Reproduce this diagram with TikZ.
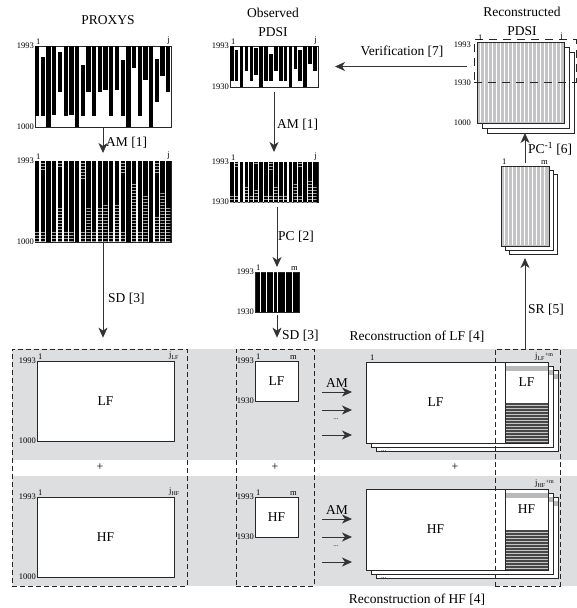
\documentclass[tikz,border=0pt]{standalone}
\usepackage{fontspec}
\setmainfont{Liberation Serif}
\usetikzlibrary{arrows.meta,positioning,calc,backgrounds,patterns}
\definecolor{band}{RGB}{221,222,224}
\definecolor{recg}{RGB}{196,196,198}
% top/bottom of each proxy column (fraction of matrix height)
\newcommand{\proxbars}{0/0.865,0.13/0.865,0/1,0/0.857,0.08/0.57,0/0.865,0/0.857,0/1,0.233/0.865,0/0.57,0/0.865,0/0.57,0/0.547,0/0.865,0/0.54,0.17/0.865,0/1,0/0.273,0/0.865,0/0.424,0/1,0.163/0.694,0/0.376,0/0.57}
\newcommand{\obsbars}{0/0.85,0.1/0.85,0/1,0/0.6,0/0.85,0.05/0.7,0/1,0/0.85,0.2/0.85,0/0.6,0/0.85,0/0.85,0/1,0/0.55,0.1/0.85,0/1,0/0.45,0/0.6}

\begin{document}
\begin{tikzpicture}[x=1pt, y=-1pt,
    font=\fontsize{13.5}{16}\selectfont,
  % data matrices and result sheets
    mat/.style={draw=black!85, line width=0.7pt, fill=white, inner sep=0pt, outer sep=0pt},
    sheet/.style={draw=black!85, line width=0.7pt, fill=white},
  % dashed boxes: groups over the grey bands, calibration window
    grp/.style={draw=black!85, line width=0.7pt, dash pattern=on 5pt off 3pt, inner sep=0pt},
    win/.style={draw=black!85, line width=0.7pt, dash pattern=on 8pt off 6pt, inner sep=0pt},
    tick/.style={font=\fontsize{8.5}{9}\selectfont, inner sep=1pt},
    txt/.style={inner sep=1pt},
    infill/.style={pattern=horizontal lines, pattern color=gray!75},
    arr/.style={-{Stealth[length=10pt,width=9pt,inset=3pt]}, line width=0.8pt, draw=black!80}
  ]
\useasboundingbox (0,0) rectangle (577,608);

% --- proxys (left) ---
\node[txt] (proxt) at (108,20) {PROXYS};
\node[mat, minimum width=136pt, minimum height=81pt] (prox) at (103,86.5) {};
\node[mat, minimum width=136pt, minimum height=81pt] (proxam) at (103,201.5) {};

\foreach \t/\b [count=\i from 0] in \proxbars
  \fill ($(prox.north west)+(\i*5.7,\t*81)$) rectangle ++(4.3,{(\b-\t)*81});

\fill (proxam.north west) rectangle (proxam.south east);
\foreach \t/\b [count=\i from 0] in \proxbars {
  \fill[infill] ($(proxam.north west)+(\i*5.7,0)$) rectangle ++(4.3,{\t*81});
  \fill[infill] ($(proxam.north west)+(\i*5.7,\b*81)$) rectangle ++(4.3,{(1-\b)*81});
}
\foreach \i in {0,...,22}
  \fill[white] ($(proxam.north west)+(\i*5.7+4.3,0.4)$) rectangle ++(1.4,80.2);

% --- observed PDSI (middle) ---
\node[txt, align=center, font=\fontsize{13.5}{19}\selectfont] (obst) at (273,22) {Observed\\PDSI};
\node[mat, minimum width=88pt, minimum height=41pt] (obs) at (274,66.5) {};
\node[mat, minimum width=88pt, minimum height=40pt] (obsam) at (274,182) {};
\node[mat, fill=black, minimum width=44pt, minimum height=40pt] (pc) at (277,292) {};

\foreach \t/\b [count=\i from 0] in \obsbars
  \fill ($(obs.north west)+(\i*4.89,\t*41)$) rectangle ++(3.6,{(\b-\t)*41});

\fill (obsam.north west) rectangle (obsam.south east);
\foreach \t/\b [count=\i from 0] in \obsbars {
  \fill[infill] ($(obsam.north west)+(\i*4.89,0)$) rectangle ++(3.6,{\t*40});
  \fill[infill] ($(obsam.north west)+(\i*4.89,\b*40)$) rectangle ++(3.6,{(1-\b)*40});
}
\foreach \i in {0,...,16}
  \fill[white] ($(obsam.north west)+(\i*4.89+3.6,0.4)$) rectangle ++(1.2,39.2);

\foreach \x in {5.3,11,18.3,22.7,30,37}
  \draw[white, line width=0.9pt] ($(pc.north west)+(\x,0.4)$) -- ++(0,39.2);

% --- reconstructed PDSI (right) ---
\node[txt, align=center, font=\fontsize{13.5}{19}\selectfont] (rect) at (522,21) {Reconstructed\\PDSI};
\node[mat, fill=recg, minimum width=87pt, minimum height=81pt] (rec) at (520.5,82.5) {};
\node[mat, fill=recg, minimum width=48pt, minimum height=80pt] (recpc) at (525,206) {};
\foreach \x in {3,7,...,83}
  \draw[white, line width=1pt] ($(rec.north west)+(\x,0.6)$) -- ++(0,79.8);
\foreach \x in {3,7,...,45}
  \draw[white, line width=1pt] ($(recpc.north west)+(\x,0.6)$) -- ++(0,78.8);
\node[win, minimum width=102pt, minimum height=43pt] (recwin) at (525,60.5) {};

% --- LF / HF split ---
\node[mat, minimum width=137pt, minimum height=80pt] (lfl) at (105.5,401) {LF};
\node[mat, minimum width=137pt, minimum height=80pt] (hfl) at (105.5,537) {HF};
\node[mat, minimum width=43pt, minimum height=40pt] (lfm) at (276.5,381) {LF};
\node[mat, minimum width=43pt, minimum height=40pt] (hfm) at (276.5,517) {HF};

% --- reconstructions: main part + appended m columns ---
\node[mat, minimum width=139pt, minimum height=81pt] (lfrec) at (435.5,402.5) {LF};
\node[mat, minimum width=43pt, minimum height=81pt, right=0pt of lfrec] (lfsub) {};
\node[mat, minimum width=139pt, minimum height=81pt] (hfrec) at (435.5,529.5) {HF};
\node[mat, minimum width=43pt, minimum height=81pt, right=0pt of hfrec] (hfsub) {};

\foreach \s/\l in {lfsub/LF, hfsub/HF} {
  \fill[gray!55] ($(\s.north west)+(0.4,4)$) rectangle ($(\s.north east)+(-0.4,9)$);
  \node (\s-t) at ($(\s.north)+(0,20)$) {\l};
  \fill[black!72] (\s.west) rectangle (\s.south east);
  \foreach \k in {1,...,13}
    \draw[gray!45, line width=0.9pt] ($(\s.west)+(0.4,\k*3)$) -- ++(42.2,0);
  \draw[black!85, line width=0.7pt] (\s.north west) rectangle (\s.south east);
}

% --- arrows into the reconstructions ---
\node[txt] (amlf) at (337,383) {AM};
\node[txt] (amhf) at (337,510) {AM};
\foreach \r in {lfrec, hfrec} {
  \foreach \dy [count=\k] in {30,48,73} {
    \coordinate (\r-in\k) at ([yshift=-\dy pt]\r.north west);
    \draw[arr, shorten <=8pt, shorten >=14pt] (\r-in\k -| lfm.east) ++(16,0) coordinate (\r-src\k) -- (\r-in\k);
  }
  \node[tick, font=\fontsize{7}{7}\selectfont] (\r-dots) at ($(\r-in2)!0.5!(\r-in3)+(-30,-3)$) {...};
  \node[tick, font=\fontsize{7}{7}\selectfont, anchor=base west] (\r-more) at ($(\r.south west)+(14,8)$) {...};
}

% --- dashed group boxes ---
\node[grp, minimum width=175pt, minimum height=237pt] (grpL) at (99.5,467.5) {};
\node[grp, minimum width=78pt, minimum height=237pt] (grpM) at (275,467.5) {};
\node[grp, minimum width=65pt, minimum height=237pt] (grpR) at (527.5,467.5) {};

% --- column / year ticks ---
\foreach \m/\l/\r in {prox/1/j, proxam/1/j, obs/1/j, obsam/1/j, pc/1/m, rec/1/j, recpc/1/m, lfm/1/m, hfm/1/m} {
  \node[tick, anchor=south west] (\m-c1) at (\m.north west) {\l};
  \node[tick, anchor=south east] (\m-c2) at (\m.north east) {\r};
}
\foreach \m/\a/\b in {prox/1993/1000, proxam/1993/1000, obs/1993/1930, obsam/1993/1930, pc/1993/1930, lfl/1993/1000, hfl/1993/1000, lfm/1993/1930, hfm/1993/1930} {
  \node[tick, anchor=east] (\m-y1) at (\m.north west) {\a};
  \node[tick, anchor=east] (\m-y2) at (\m.south west) {\b};
}
\node[tick, anchor=east, inner sep=2.5pt] (rec-y1) at ([yshift=-3pt]recwin.west |- rec.north) {1993};
\node[tick, anchor=east, inner sep=2.5pt] (rec-y2) at (recwin.south west) {1930};
\node[tick, anchor=east, inner sep=2.5pt] (rec-y3) at (recwin.west |- rec.south) {1000};
\node[tick, anchor=south west] (lfl-c1) at (lfl.north west) {1};
\node[tick, anchor=south west] (lfl-c2) at ([xshift=-6pt]lfl.north east) {j\textsubscript{LF}};
\node[tick, anchor=south west] (hfl-c1) at (hfl.north west) {1};
\node[tick, anchor=south west] (hfl-c2) at ([xshift=-6pt]hfl.north east) {j\textsubscript{HF}};
\node[tick, anchor=south west] (lfrec-c1) at ([xshift=3pt]lfrec.north west) {1};
\node[tick, anchor=south west] (lfsub-c2) at ([xshift=29pt]lfsub.north west) {j\textsubscript{LF}\textsuperscript{+m}};
\node[tick, anchor=south west] (hfsub-c2) at ([xshift=29pt]hfsub.north west) {j\textsubscript{HF}\textsuperscript{+m}};

% --- processing steps ---
\draw[arr, shorten >=8pt] (prox.south) -- (proxam.north);
\draw[arr, shorten >=11pt] (proxam.south) -- (proxam.south |- grpL.north);
\draw[arr, shorten <=5pt, shorten >=10pt] (obs.south) -- (obsam.north);
\draw[arr, shorten <=5pt, shorten >=5pt] (obsam.south -| pc.north) -- (pc.north);
\draw[arr, shorten <=3pt, shorten >=11pt] (pc.south) -- (pc.south |- grpM.north);
\draw[arr, shorten <=7pt, shorten >=17pt] (obs.east -| recwin.west) -- (obs.east);
\draw[arr, shorten <=3pt, shorten >=10pt] (recpc.north) -- (recpc.north |- rec.south);
\draw[arr, shorten >=12pt] (recpc.south |- grpR.north) -- (recpc.south);

\node[txt, anchor=west] (am1) at (105,143) {AM [1]};
\node[txt, anchor=west] (sd1) at (107,299) {SD [3]};
\node[txt, anchor=west] (am2) at (276,125) {AM [1]};
\node[txt, anchor=west] (pc2) at (277,237) {PC [2]};
\node[txt, anchor=west] (sd2) at (281,336) {SD [3]};
\node[txt] (ver) at (402,52) {Verification [7]};
\node[txt, anchor=west] (pcinv) at (527,149) {PC\textsuperscript{-1} [6]};
\node[txt, anchor=west] (sr) at (527,310) {SR [5]};
\node[txt] (reclf) at (417,337) {Reconstruction of LF [4]};
\node[txt] (rechf) at (417,600) {Reconstruction of HF [4]};

\node[font=\fontsize{12}{12}\selectfont] (plus1) at (100,467) {+};
\node[font=\fontsize{12}{12}\selectfont] (plus2) at (275,467) {+};
\node[font=\fontsize{12}{12}\selectfont] (plus3) at (455,467) {+};

% --- grey bands and stacked sheets behind everything ---
\begin{pgfonlayer}{background}
  \fill[band] (12,349) rectangle (577,460);
  \fill[band] (12,476) rectangle (577,586);
  \foreach \o in {10,5} {
    \filldraw[sheet] ($(rec.north west)+(\o,\o)$) rectangle ($(rec.south east)+(\o,\o)$);
    \filldraw[sheet] ($(recpc.north west)+(0.8*\o,0.8*\o)$) rectangle ($(recpc.south east)+(0.8*\o,0.8*\o)$);
    \foreach \r/\s in {lfrec/lfsub, hfrec/hfsub} {
      \filldraw[sheet] ($(\r.north west)+(\o,0.8*\o)$) rectangle ($(\s.south east)+(\o,0.8*\o)$);
      \fill[gray!55] ($(\s.north west)+(\o,0.8*\o+4)$) rectangle ($(\s.north east)+(\o-0.4,0.8*\o+9)$);
    }
  }
\end{pgfonlayer}
\end{tikzpicture}
\end{document}
